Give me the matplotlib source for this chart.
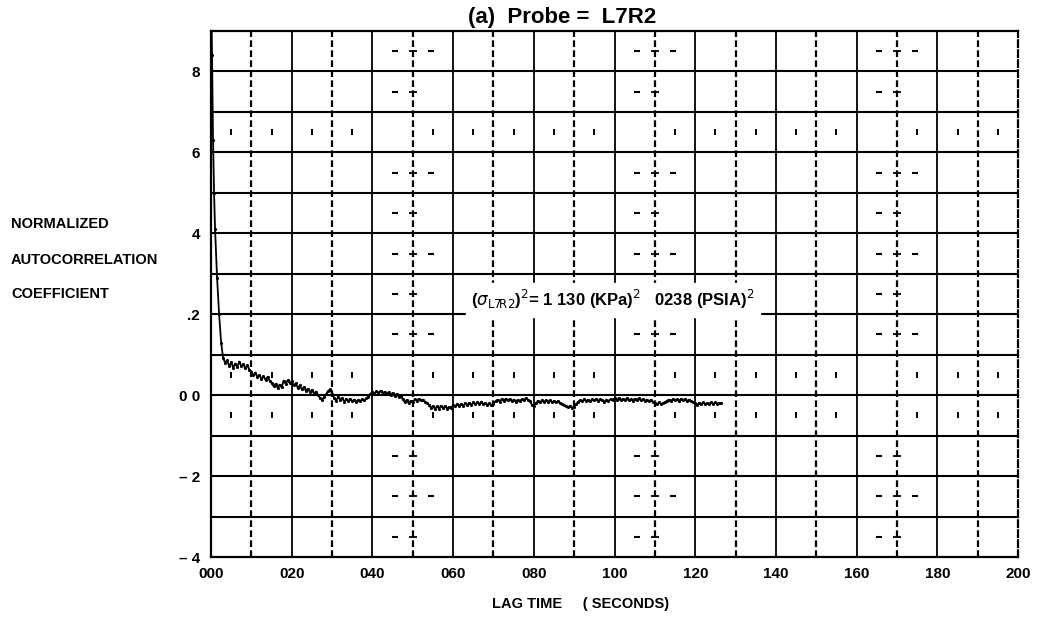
#!/usr/bin/env python3
"""
Normalized autocorrelation coefficient of probe L7R2 against lag time,
drawn in the style of an old plotter sheet: square grid, solid lines at
every 20 s, broken lines at the odd tens, and a noisy trace that settles
just below zero.
"""

import numpy as np
import matplotlib.pyplot as plt

plt.rcParams['font.family'] = ['Liberation Sans', 'DejaVu Sans']

# fast initial drop of the autocorrelation (lag in seconds)
lag_head = [0.0, 0.25, 0.5, 0.75, 1.0, 1.5, 2.0, 2.5]
acf_head = [1.00, 0.84, 0.63, 0.50, 0.41, 0.29, 0.20, 0.13]

# remainder of the trace, sampled every 0.5 s starting at 3.0 s
acf_tail = [
    0.092, 0.080, 0.086, 0.072, 0.081, 0.068, 0.078, 0.070, 0.083, 0.071,
    0.077, 0.066, 0.074, 0.063,
    0.058, 0.049, 0.056, 0.044, 0.050, 0.040, 0.047, 0.038, 0.045, 0.036,
    0.030, 0.022, 0.028, 0.018, 0.026, 0.019,
    0.036, 0.028, 0.037, 0.030, 0.034,
    0.024, 0.029, 0.018, 0.024, 0.014, 0.020, 0.011, 0.016, 0.008, 0.013,
    0.004, 0.009, 0.001, -0.006,
    -0.012, -0.005, 0.002, 0.010, 0.014, 0.004,
    -0.006, -0.014, -0.004, -0.011, -0.007, -0.016, -0.010, -0.014, -0.009, -0.015,
    -0.011, -0.016, -0.012, -0.014, -0.010, -0.013, -0.008, -0.004, 0.003,
    0.009, 0.004, 0.010, 0.006, 0.011, 0.005, 0.008, 0.002, 0.007, 0.001,
    0.005, -0.002, 0.003, -0.004, -0.001,
    -0.010, -0.017, -0.012, -0.020, -0.014, -0.018,
    -0.010, -0.014, -0.009, -0.013, -0.011, -0.016, -0.019,
    -0.025, -0.031, -0.027, -0.034, -0.028, -0.033, -0.026, -0.032, -0.027, -0.033,
    -0.029, -0.031,
    -0.024, -0.028, -0.022, -0.027, -0.021, -0.026, -0.020, -0.025, -0.019, -0.024,
    -0.018,
    -0.023, -0.017, -0.022, -0.016, -0.023, -0.019, -0.024, -0.020, -0.025, -0.022,
    -0.015, -0.011, -0.016, -0.010, -0.014, -0.009, -0.013, -0.010, -0.015, -0.011,
    -0.016, -0.012, -0.015, -0.010, -0.012, -0.008, -0.011, -0.014,
    -0.024, -0.027, -0.020,
    -0.014, -0.018, -0.013, -0.017, -0.012, -0.016, -0.013, -0.018, -0.014, -0.017,
    -0.015, -0.019, -0.021,
    -0.024, -0.027, -0.030, -0.026, -0.031, -0.029, -0.022,
    -0.016, -0.012, -0.015, -0.010, -0.014, -0.011, -0.015, -0.010, -0.013, -0.009,
    -0.014, -0.010, -0.012, -0.016, -0.011, -0.014, -0.010, -0.013,
    -0.007, -0.011, -0.008, -0.013, -0.009, -0.012, -0.008, -0.013, -0.010, -0.014,
    -0.009, -0.012, -0.008, -0.013, -0.010, -0.014, -0.011, -0.015, -0.012, -0.016,
    -0.019, -0.023, -0.018, -0.022, -0.020, -0.017, -0.014,
    -0.011, -0.014, -0.009, -0.013, -0.010, -0.014, -0.009, -0.012, -0.010, -0.014,
    -0.011, -0.015, -0.017,
    -0.020, -0.024, -0.019, -0.022, -0.018, -0.023, -0.019, -0.021, -0.017, -0.022,
    -0.018, -0.021, -0.019, -0.020,
]

x_ticks = [0, 20, 40, 60, 80, 100, 120, 140, 160, 180, 200]
x_tick_labels = ['000', '020', '040', '060', '080', '100', '120', '140',
                 '160', '180', '200']
y_ticks = [0.8, 0.6, 0.4, 0.2, 0.0, -0.2, -0.4]
y_tick_labels = ['8', '6', '4', '.2', '0 0', '\u2013 2', '\u2013 4']

lag_tail = 3.0 + 0.5 * np.arange(len(acf_tail))
lag = np.concatenate([lag_head, lag_tail])
acf = np.concatenate([acf_head, acf_tail])

fig = plt.figure(figsize=(10.38, 6.18), dpi=100)
ax = fig.add_axes([0.2033, 0.0987, 0.7775, 0.8511])
ax.set_xlim(0, 200)
ax.set_ylim(-0.4, 0.9)

# grid: horizontal rules every 0.1, verticals every 10 s
for y in np.arange(-0.3, 0.85, 0.1):
    ax.axhline(y, color='black', linewidth=1.5, zorder=1)
for x in range(10, 200, 10):
    if x % 20 == 0:
        ax.axvline(x, color='black', linewidth=1.3, zorder=1)
    else:
        ax.axvline(x, color='black', linewidth=1.6, linestyle=(0, (3, 1.5)),
                   zorder=1)

# small plotter ticks that run down the 50, 110 and 170 s columns
tick_rows = [0.85, 0.75, 0.55, 0.45, 0.35, 0.25, 0.15, -0.15, -0.25, -0.35]
for col in [50, 110, 170]:
    ax.plot([col] * len(tick_rows), tick_rows, linestyle='none', marker='_',
            markersize=6, markeredgewidth=1.3, color='black', zorder=2)
    ax.plot([col - 4.5] * len(tick_rows), tick_rows, linestyle='none',
            marker='_', markersize=4, markeredgewidth=1.5, color='black',
            zorder=2)
    ax.plot([col + 4.5] * len(tick_rows[::2]), tick_rows[::2],
            linestyle='none', marker='_', markersize=4, markeredgewidth=1.5,
            color='black', zorder=2)

# short strokes in the middle of the cells on three rows
stroke_cols = [5, 15, 25, 35, 55, 65, 75, 85, 95, 115, 125, 135, 145,
               155, 175, 185, 195]
for row in [0.65, 0.05, -0.05]:
    ax.plot(stroke_cols, [row] * len(stroke_cols), linestyle='none',
            marker='|', markersize=4, markeredgewidth=1.4, color='black',
            zorder=2)

ax.plot(lag, acf, color='black', linewidth=1.3, marker='.', markersize=2.5,
        zorder=3)

for spine in ax.spines.values():
    spine.set_linewidth(1.6)
ax.spines['right'].set_linestyle((0, (3, 1.5)))

ax.set_xticks(x_ticks)
ax.set_xticklabels(x_tick_labels, fontsize=11, fontweight='bold')
ax.set_yticks(y_ticks)
ax.set_yticklabels(y_tick_labels, fontsize=11, fontweight='bold')
ax.tick_params(axis='both', length=0)
ax.tick_params(axis='x', pad=7)
ax.tick_params(axis='y', pad=8)

fig.text(0.542, 0.971, '(a)  Probe =  L7R2', ha='center', va='center',
         fontsize=16, fontweight='bold')
fig.text(0.559, 0.0227, 'LAG TIME     ( SECONDS)', ha='center', va='center',
         fontsize=10.5, fontweight='bold')

for y_pix, label in [(224, 'NORMALIZED'), (260, 'AUTOCORRELATION'),
                     (294, 'COEFFICIENT')]:
    fig.text(11 / 1038, 1 - y_pix / 618, label, ha='left', va='center',
             fontsize=10.5, fontweight='bold')

ax.text(64.5, 0.236,
        r'($\sigma_{\mathrm{L7R2}}$)$^2$= 1 130 (KPa)$^2$   0238 (PSIA)$^2$',
        ha='left', va='center', fontsize=12, fontweight='bold',
        backgroundcolor='white', zorder=4)

fig.savefig('out.png', dpi=100)
